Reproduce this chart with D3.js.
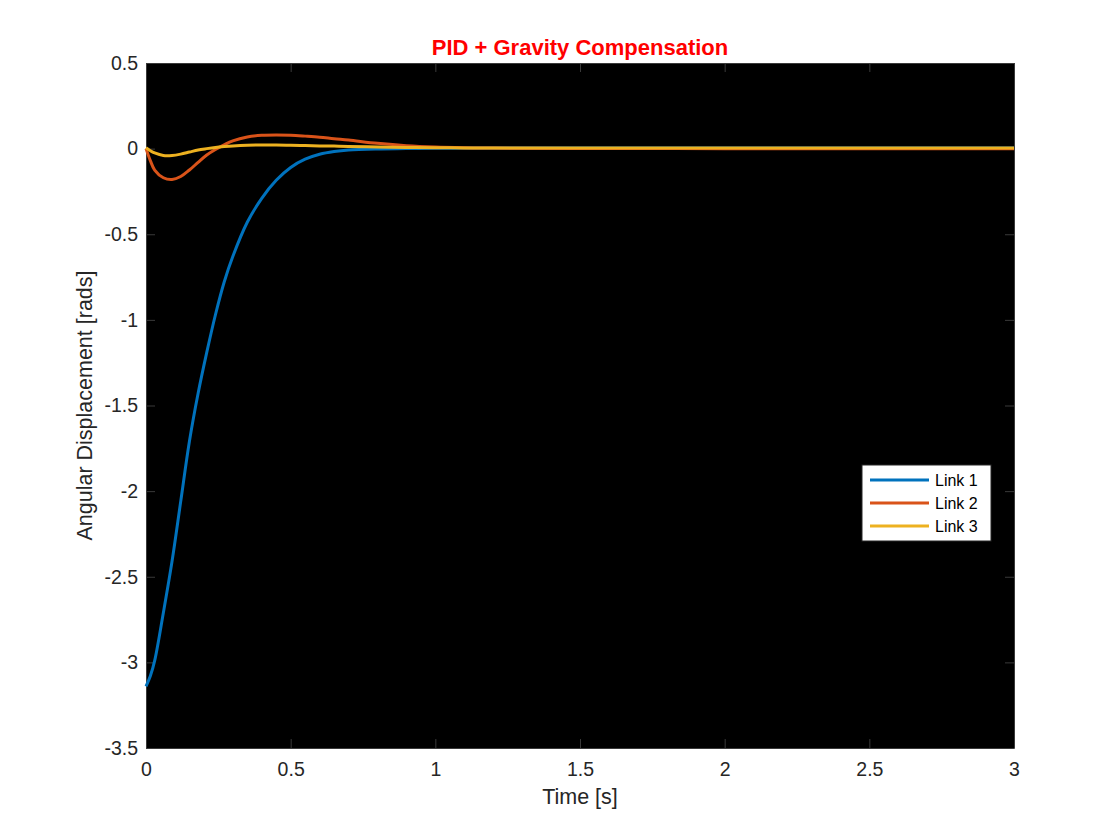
<!DOCTYPE html>
<html lang="en">
<head>
<meta charset="utf-8">
<title>PID + Gravity Compensation</title>
<script src="https://d3js.org/d3.v7.min.js"></script>
<style>
  body { margin: 0; background: #fff; }
  text { font-family: "Liberation Sans", Arial, Helvetica, sans-serif; fill: #262626; }
</style>
</head>
<body>
<svg id="chart" width="1120" height="840"></svg>
<script>
// sample times [s]
var timeData = [0, 0.015, 0.03, 0.06, 0.09, 0.12, 0.15, 0.18, 0.21, 0.24, 0.27, 0.3, 0.35, 0.4, 0.45,
  0.5, 0.55, 0.6, 0.65, 0.7, 0.8, 0.9, 1.0, 1.1, 1.2, 1.5, 2.0, 2.5, 3.0];

// angular displacement [rads] for each link
var link1 = [-3.14, -3.08, -2.99, -2.71, -2.41, -2.06, -1.71, -1.43, -1.19, -0.97, -0.78, -0.63, -0.43, -0.29, -0.185,
  -0.11, -0.062, -0.033, -0.017, -0.008, -0.002, 0.0, 0.002, 0.003, 0.003, 0.003, 0.004, 0.004, 0.004];
var link2 = [0, -0.07, -0.125, -0.17, -0.18, -0.163, -0.125, -0.08, -0.037, -0.005, 0.022, 0.045, 0.068, 0.078, 0.08,
  0.078, 0.073, 0.067, 0.058, 0.05, 0.031, 0.017, 0.009, 0.005, 0.003, 0.001, 0, 0, 0];
var link3 = [0.005, -0.012, -0.025, -0.04, -0.04, -0.032, -0.02, -0.008, 0.0, 0.007, 0.012, 0.016, 0.02, 0.021, 0.021,
  0.02, 0.018, 0.016, 0.015, 0.013, 0.01, 0.007, 0.005, 0.004, 0.003, 0.003, 0.003, 0.003, 0.003];

var seriesNames = ['Link 1', 'Link 2', 'Link 3'];
var seriesColors = ['#0072BD', '#D95319', '#EDB120'];

var xTicks = [0, 0.5, 1, 1.5, 2, 2.5, 3];
var yTicks = [0.5, 0, -0.5, -1, -1.5, -2, -2.5, -3, -3.5];

var margin = { left: 146, top: 63, right: 1014, bottom: 748 };
var axisColor = '#3a3a3a';

var svg = d3.select('#chart');

var x = d3.scaleLinear().domain([0, 3]).range([margin.left, margin.right]);
var y = d3.scaleLinear().domain([-3.5, 0.5]).range([margin.bottom, margin.top]);

// plot background
svg.append('rect')
  .attr('x', margin.left)
  .attr('y', margin.top)
  .attr('width', margin.right - margin.left)
  .attr('height', margin.bottom - margin.top)
  .attr('fill', '#000');

// axes with inward ticks on all four sides
function styleAxis(g) {
  g.select('.domain').attr('stroke', axisColor).attr('fill', 'none');
  g.selectAll('.tick line').attr('stroke', axisColor);
  g.selectAll('.tick text').style('font-size', '19.5px').attr('fill', '#262626');
}

var fmt = function(d) { return String(d); };

svg.append('g')
  .attr('transform', 'translate(0,' + margin.bottom + ')')
  .call(d3.axisBottom(x).tickValues(xTicks).tickFormat(fmt).tickSizeInner(-9).tickSizeOuter(0).tickPadding(14))
  .call(styleAxis);

svg.append('g')
  .attr('transform', 'translate(0,' + margin.top + ')')
  .call(d3.axisTop(x).tickValues(xTicks).tickFormat('').tickSizeInner(-9).tickSizeOuter(0))
  .call(styleAxis);

svg.append('g')
  .attr('transform', 'translate(' + margin.left + ',0)')
  .call(d3.axisLeft(y).tickValues(yTicks).tickFormat(fmt).tickSizeInner(-9).tickSizeOuter(0).tickPadding(8))
  .call(styleAxis);

svg.append('g')
  .attr('transform', 'translate(' + margin.right + ',0)')
  .call(d3.axisRight(y).tickValues(yTicks).tickFormat('').tickSizeInner(-9).tickSizeOuter(0))
  .call(styleAxis);

// lines
var allSeries = [link1, link2, link3];
var line = d3.line()
  .x(function(d) { return x(d[0]); })
  .y(function(d) { return y(d[1]); })
  .curve(d3.curveCatmullRom.alpha(0.5));

svg.append('g')
  .selectAll('path')
  .data(allSeries)
  .enter()
  .append('path')
  .attr('fill', 'none')
  .attr('stroke', function(d, i) { return seriesColors[i]; })
  .attr('stroke-width', 3)
  .attr('d', function(vals) {
    return line(timeData.map(function(t, j) { return [t, vals[j]]; }));
  });

// title and labels
svg.append('text')
  .attr('x', (margin.left + margin.right) / 2)
  .attr('y', 55)
  .attr('text-anchor', 'middle')
  .style('font-size', '22px')
  .style('font-weight', 'bold')
  .style('fill', '#ff0000')
  .text('PID + Gravity Compensation');

svg.append('text')
  .attr('x', (margin.left + margin.right) / 2)
  .attr('y', 804)
  .attr('text-anchor', 'middle')
  .style('font-size', '21.5px')
  .text('Time [s]');

svg.append('text')
  .attr('transform', 'translate(92,' + ((margin.top + margin.bottom) / 2) + ') rotate(-90)')
  .attr('text-anchor', 'middle')
  .style('font-size', '21.5px')
  .text('Angular Displacement [rads]');

// legend
var legend = svg.append('g').attr('transform', 'translate(862,465)');

legend.append('rect')
  .attr('width', 129)
  .attr('height', 76)
  .attr('fill', '#fff')
  .attr('stroke', '#262626')
  .attr('stroke-width', 1);

var rows = legend.selectAll('g.row')
  .data(seriesNames)
  .enter()
  .append('g')
  .attr('class', 'row')
  .attr('transform', function(d, i) { return 'translate(0,' + (15 + i * 23) + ')'; });

rows.append('line')
  .attr('x1', 8)
  .attr('x2', 67)
  .attr('stroke', function(d, i) { return seriesColors[i]; })
  .attr('stroke-width', 3);

rows.append('text')
  .attr('x', 73)
  .attr('dy', '0.36em')
  .style('font-size', '16px')
  .style('fill', '#000')
  .text(function(d) { return d; });
</script>
</body>
</html>
